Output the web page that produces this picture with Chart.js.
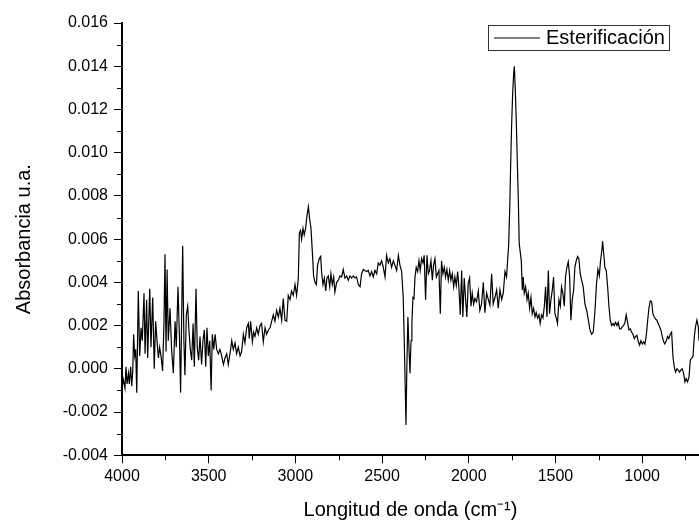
<!DOCTYPE html>
<html lang="es">
<head>
    <meta charset="UTF-8">
    <title>Esterificación</title>
    <script src="https://cdn.jsdelivr.net/npm/chart.js"></script>
    <style>
        html, body { margin: 0; padding: 0; background: #fff; overflow: hidden; }
        #wrap { width: 699px; height: 523px; }
    </style>
</head>
<body>
<div id="wrap"><canvas id="ftirChart" width="699" height="523"></canvas></div>
<script>
    // wavenumber (cm-1)
    var wavenumbers = [
        4000, 3992, 3983, 3977, 3971, 3963, 3958, 3950, 3944, 3938,
        3933, 3927, 3921, 3915, 3906, 3898, 3890, 3883, 3873, 3867,
        3858, 3852, 3840, 3833, 3823, 3814, 3806, 3798, 3790, 3783,
        3775, 3766, 3758, 3752, 3746, 3740, 3733, 3723, 3714, 3704,
        3694, 3687, 3677, 3669, 3662, 3650, 3643, 3637, 3629, 3621,
        3614, 3606, 3598, 3590, 3583, 3573, 3566, 3558, 3550, 3541,
        3533, 3525, 3517, 3510, 3502, 3494, 3486, 3479, 3471, 3463,
        3454, 3444, 3435, 3425, 3415, 3406, 3396, 3387, 3377, 3367,
        3358, 3348, 3339, 3329, 3319,
        3310, 3300, 3291, 3281, 3271, 3266, 3258, 3248, 3241, 3233,
        3223, 3214, 3204, 3195, 3185, 3175, 3166, 3156, 3146, 3137,
        3127, 3118, 3108, 3098, 3089, 3079, 3070, 3060, 3050, 3041,
        3031, 3022, 3012, 3002, 2993, 2983, 2977, 2970, 2964, 2956,
        2949, 2941, 2933, 2925, 2918, 2910, 2902, 2895, 2887, 2879,
        2872, 2862, 2854, 2849, 2841, 2833, 2825, 2818, 2810, 2802,
        2795, 2787, 2779, 2772, 2762, 2752, 2743, 2733, 2724, 2714,
        2704, 2695, 2685, 2676, 2666, 2656, 2647, 2637,
        2627, 2618, 2608, 2599, 2589, 2579, 2570, 2560, 2551, 2541,
        2531, 2522, 2512, 2503, 2493, 2483, 2474, 2464, 2455, 2445,
        2435, 2426, 2416, 2406, 2397, 2387, 2378, 2372, 2366, 2362,
        2357, 2351, 2345, 2339, 2333, 2328, 2322, 2316, 2310, 2303,
        2295, 2287, 2280, 2272, 2264, 2257, 2249, 2241, 2233, 2226,
        2218, 2210, 2203, 2195, 2187, 2180, 2172, 2164, 2157, 2149,
        2141, 2134, 2126, 2118, 2110, 2103, 2095, 2087, 2080, 2072,
        2064, 2057, 2049, 2041, 2034, 2026, 2018, 2011, 2003, 1995,
        1987, 1980, 1972, 1964, 1955, 1945, 1936,
        1926, 1916, 1907, 1897, 1887, 1878, 1868, 1859, 1849, 1839,
        1830, 1820, 1810, 1801, 1791, 1782, 1776, 1770, 1764, 1759,
        1753, 1747, 1741, 1737, 1732, 1726, 1720, 1714, 1709, 1703,
        1697, 1691, 1686, 1680, 1672, 1664, 1657, 1649, 1641, 1634,
        1626, 1618, 1611, 1603, 1595, 1588, 1580, 1572, 1564, 1557,
        1549, 1541, 1534, 1526, 1518, 1511, 1503, 1495, 1488, 1480,
        1472, 1465, 1457, 1449, 1442, 1434, 1426, 1418, 1411, 1403,
        1395, 1388, 1380, 1372, 1365, 1357, 1349, 1340,
        1330, 1320, 1311, 1301, 1291, 1282, 1272, 1263, 1255, 1247,
        1240, 1232, 1228, 1220, 1215, 1207, 1199, 1191, 1184, 1176,
        1168, 1161, 1153, 1145, 1138, 1130, 1122, 1115, 1107, 1099,
        1092, 1084, 1076, 1068, 1061, 1053, 1045, 1038, 1030, 1022,
        1015, 1007, 999, 992, 984, 976, 968, 961, 953, 945,
        938, 930, 922, 915, 907, 899, 892, 884, 876, 869,
        861, 853, 846, 838, 830, 822, 815, 807, 799, 792,
        784, 776, 769, 761, 753, 746, 738, 730, 722, 715,
        707, 699, 692, 684, 676, 672
    ];

    // absorbance (u.a.), same order as wavenumbers
    var absorbance = [
        -0.0009, -0.0005, -0.0009, 0.0001, -0.0007, -0.0002, -0.0007, 0.0001, -0.0008, -0.0001,
        0.0016, 0.0006, 0.0009, -0.0011, 0.0036, 0.0006, 0.0019, 0.0013, 0.0035, 0.0007,
        0.0032, 0.0005, 0.0037, 0.0010, 0.0033, 0.0000, 0.0022, 0.0013, 0.0005, 0.0010,
        0.0006, -0.0001, 0.0021, 0.0053, 0.0008, 0.0046, 0.0013, 0.0028, 0.0009, -0.0002,
        0.0022, 0.0010, 0.0038, 0.0016, -0.0011, 0.0057, 0.0013, -0.0003, 0.0025, 0.0029,
        0.0018, 0.0009, 0.0004, 0.0021, 0.0001, 0.0037, 0.0010, 0.0004, 0.0015, 0.0002,
        0.0013, 0.0018, 0.0001, 0.0019, 0.0006, 0.0013, -0.0010, 0.0016, 0.0009, 0.0016,
        0.0009, 0.0007, 0.0009, 0.0006, 0.0002, 0.0005, 0.0007, 0.0002, 0.0007, 0.0013,
        0.0009, 0.0012, 0.0007, 0.0010, 0.0006,
        0.0008, 0.0016, 0.0012, 0.0019, 0.0021, 0.0014, 0.0022, 0.00125, 0.0017, 0.0015,
        0.0019, 0.0016, 0.0020, 0.0021, 0.00125, 0.0019, 0.0016, 0.0018, 0.0019, 0.0022,
        0.0025, 0.0022, 0.0027, 0.0024, 0.0028, 0.00225, 0.00325, 0.00225, 0.0022, 0.0034,
        0.0032, 0.0036, 0.0034, 0.0039, 0.0034, 0.0042, 0.0063, 0.0064, 0.0060, 0.0065,
        0.0062, 0.0065, 0.0071, 0.0075, 0.00695, 0.0065, 0.0054, 0.0043, 0.0040, 0.0039,
        0.0048, 0.0051, 0.0052, 0.0045, 0.0039, 0.0042, 0.0036, 0.0042, 0.0043, 0.0038,
        0.0044, 0.0039, 0.00425, 0.00355, 0.0040, 0.0041, 0.0043, 0.00425, 0.0046, 0.0042,
        0.0043, 0.0041, 0.0043, 0.0042, 0.0043, 0.0042, 0.00425, 0.0039,
        0.0038, 0.0044, 0.0046, 0.00455, 0.0045, 0.00455, 0.0043, 0.0045, 0.00425, 0.00455,
        0.0044, 0.0049, 0.0048, 0.0050, 0.0047, 0.00425, 0.00525, 0.0049, 0.0051, 0.0047,
        0.0050, 0.0048, 0.00455, 0.00525, 0.0048, 0.0045, 0.0033, 0.0013, -0.0010, -0.0026,
        0.0001, 0.0024, 0.0010, -0.0002, 0.0013, 0.0021, 0.0033, 0.00325, 0.00425, 0.0047,
        0.0045, 0.0050, 0.00455, 0.0051, 0.0049, 0.00525, 0.0032, 0.00525, 0.0044, 0.00455,
        0.0050, 0.0041, 0.0048, 0.0051, 0.00425, 0.0044, 0.00455, 0.00255, 0.0050, 0.0044,
        0.0047, 0.00425, 0.0046, 0.0041, 0.00455, 0.0041, 0.0044, 0.0038, 0.00425, 0.00385,
        0.0045, 0.0038, 0.0025, 0.00455, 0.0024, 0.0042, 0.0032, 0.0024, 0.00395, 0.0042,
        0.0029, 0.0035, 0.0030, 0.00325, 0.0031, 0.0036, 0.0027,
        0.0030, 0.0040, 0.0026, 0.0035, 0.0032, 0.00295, 0.0044, 0.0030, 0.0033, 0.00365,
        0.0028, 0.00365, 0.0032, 0.0035, 0.0045, 0.00425, 0.0050, 0.0057, 0.0073, 0.0092,
        0.0112, 0.0127, 0.01365, 0.0140, 0.0130, 0.0115, 0.0096, 0.0078, 0.0058, 0.0054,
        0.0050, 0.00365, 0.00425, 0.0035, 0.0038, 0.0032, 0.0035, 0.0028, 0.0033, 0.00255,
        0.0028, 0.0024, 0.0026, 0.00235, 0.0025, 0.0021, 0.0025, 0.00235, 0.0029, 0.0038,
        0.0024, 0.00455, 0.00255, 0.0032, 0.00365, 0.00425, 0.00255, 0.00235, 0.0021, 0.0032,
        0.0029, 0.0038, 0.0035, 0.0029, 0.00425, 0.0047, 0.00495, 0.00425, 0.00225, 0.0032,
        0.00365, 0.0047, 0.0050, 0.0052, 0.0051, 0.0044, 0.0041, 0.0038,
        0.0030, 0.0027, 0.0023, 0.0018, 0.0016, 0.0017, 0.0027, 0.00395, 0.0046, 0.0043,
        0.0050, 0.0055, 0.0059, 0.0052, 0.0047, 0.00455, 0.0038, 0.00285, 0.00225, 0.0020,
        0.0021, 0.0020, 0.00215, 0.0020, 0.00215, 0.00185, 0.00185, 0.00195, 0.0020, 0.00215,
        0.0025, 0.00215, 0.0018, 0.00185, 0.0017, 0.0016, 0.0014, 0.0015, 0.00155, 0.00125,
        0.0011, 0.0013, 0.00115, 0.00125, 0.00115, 0.00155, 0.00225, 0.0028, 0.00315, 0.0031,
        0.00255, 0.0024, 0.0023, 0.00225, 0.0021, 0.00195, 0.0018, 0.0015, 0.00125, 0.00115,
        0.0013, 0.0015, 0.0014, 0.0016, 0.0017, 0.00055, 0.0001, -0.00015, 0.0000, -0.00005,
        -0.00015, -0.00005, 0.0000, -0.0002, -0.0006, -0.00045, -0.0006, -0.0004, 0.0004, 0.0005,
        0.00055, 0.0015, 0.00195, 0.00225, 0.00195, 0.0013
    ];

    var seriesLabel = 'Esterificación';
    var xTicks = [4000, 3500, 3000, 2500, 2000, 1500, 1000];
    var xMinorTicks = [3750, 3250, 2750, 2250, 1750, 1250, 750];
    var yTicks = [-0.004, -0.002, 0.000, 0.002, 0.004, 0.006, 0.008, 0.010, 0.012, 0.014, 0.016];
    var yMinorTicks = [-0.003, -0.001, 0.001, 0.003, 0.005, 0.007, 0.009, 0.011, 0.013, 0.015];

    var fontFamily = '"Liberation Sans", Arial, Helvetica, sans-serif';

    // short minor ticks + the framed legend in the top right corner
    var extras = {
        id: 'extras',
        afterDraw: function(chart) {
            var ctx = chart.ctx;
            var xs = chart.scales.x;
            var ys = chart.scales.y;
            ctx.save();
            ctx.strokeStyle = '#000';
            ctx.lineWidth = 1;
            ctx.beginPath();
            xMinorTicks.forEach(function(v) {
                var px = Math.round(xs.getPixelForValue(v)) + 0.5;
                ctx.moveTo(px, xs.top);
                ctx.lineTo(px, xs.top + 5);
            });
            yMinorTicks.forEach(function(v) {
                var py = Math.round(ys.getPixelForValue(v)) + 0.5;
                ctx.moveTo(ys.right, py);
                ctx.lineTo(ys.right - 5, py);
            });
            ctx.stroke();

            // legend
            var bx = 488.5, by = 25.5, bw = 181, bh = 25;
            ctx.fillStyle = '#fff';
            ctx.fillRect(bx, by, bw, bh);
            ctx.strokeStyle = '#333';
            ctx.strokeRect(bx, by, bw, bh);
            ctx.strokeStyle = '#000';
            ctx.beginPath();
            ctx.moveTo(494, 38);
            ctx.lineTo(540, 38);
            ctx.stroke();
            ctx.fillStyle = '#000';
            ctx.font = '20px ' + fontFamily;
            ctx.textBaseline = 'middle';
            ctx.textAlign = 'left';
            ctx.fillText(chart.data.datasets[0].label, 546, 38.5);
            ctx.restore();
        }
    };

    document.addEventListener('DOMContentLoaded', function () {
        var ctx = document.getElementById('ftirChart').getContext('2d');
        window.myChart = new Chart(ctx, {
            type: 'line',
            data: {
                datasets: [{
                    label: seriesLabel,
                    data: wavenumbers.map(function(w, i) { return {x: w, y: absorbance[i]}; }),
                    borderColor: '#000',
                    borderWidth: 1.2,
                    pointRadius: 0,
                    tension: 0,
                    fill: false
                }]
            },
            options: {
                responsive: false,
                animation: false,
                events: [],
                layout: { padding: { top: 23, right: 0, bottom: 0, left: 0 } },
                plugins: {
                    legend: { display: false },
                    tooltip: { enabled: false }
                },
                scales: {
                    x: {
                        type: 'linear',
                        reverse: true,
                        min: 672,
                        max: 4000,
                        afterBuildTicks: function(axis) {
                            axis.ticks = xTicks.map(function(v) { return {value: v}; });
                        },
                        afterFit: function(axis) { axis.height = 67.7; },
                        grid: { drawOnChartArea: false, drawTicks: true, tickLength: 8, color: '#000', lineWidth: 1 },
                        border: { display: true, color: '#000', width: 2 },
                        ticks: {
                            autoSkip: false,
                            maxRotation: 0,
                            padding: 4,
                            color: '#000',
                            font: { family: fontFamily, size: 16 },
                            callback: function(v) { return String(v); }
                        },
                        title: {
                            display: true,
                            text: 'Longitud de onda (cm⁻¹)',
                            color: '#000',
                            font: { family: fontFamily, size: 20 },
                            padding: { top: 0, bottom: 1 }
                        }
                    },
                    y: {
                        type: 'linear',
                        min: -0.004,
                        max: 0.016,
                        afterBuildTicks: function(axis) {
                            axis.ticks = yTicks.map(function(v) { return {value: v}; });
                        },
                        afterFit: function(axis) { axis.width = 122; },
                        grid: { drawOnChartArea: false, drawTicks: true, tickLength: 8, color: '#000', lineWidth: 1 },
                        border: { display: true, color: '#000', width: 2 },
                        ticks: {
                            padding: 6,
                            color: '#000',
                            font: { family: fontFamily, size: 16 },
                            callback: function(v) { return Number(v).toFixed(3); }
                        },
                        title: {
                            display: true,
                            text: 'Absorbancia u.a.',
                            color: '#000',
                            font: { family: fontFamily, size: 20 },
                            padding: { top: 12, bottom: 0 }
                        }
                    }
                }
            },
            plugins: [extras]
        });
    });
</script>
</body>
</html>
